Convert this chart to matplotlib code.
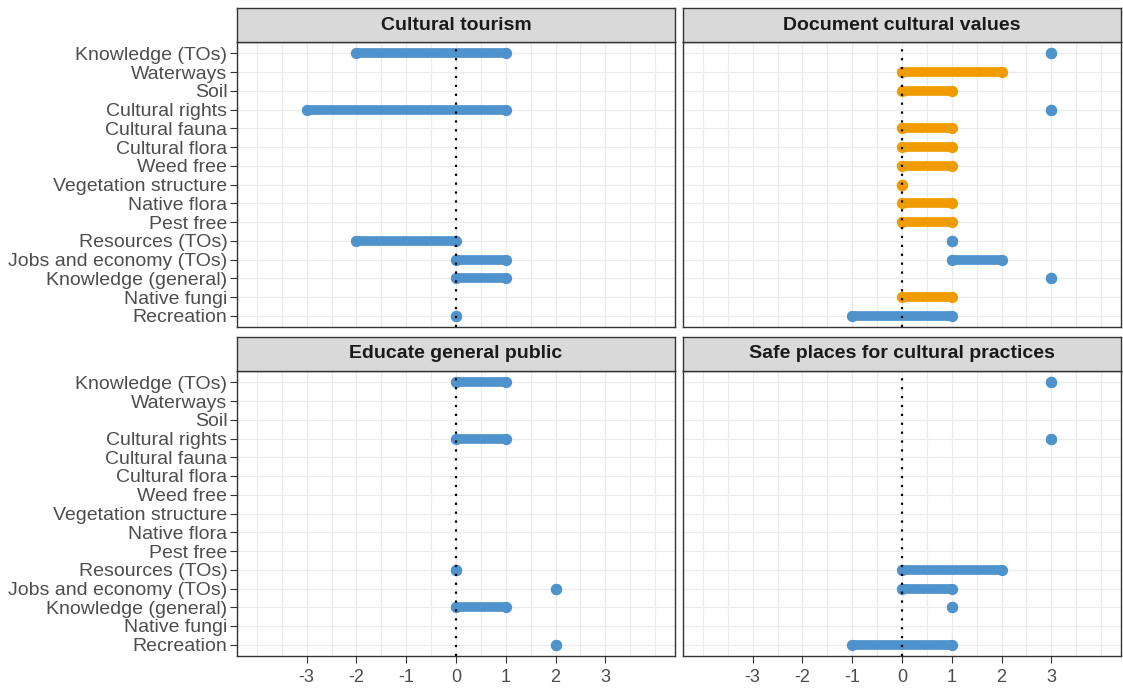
import matplotlib
matplotlib.use("Agg")
import matplotlib.pyplot as plt
import numpy as np

# Outcome categories, listed top to bottom
categories = [
    "Knowledge (TOs)", "Waterways", "Soil", "Cultural rights", "Cultural fauna",
    "Cultural flora", "Weed free", "Vegetation structure", "Native flora",
    "Pest free", "Resources (TOs)", "Jobs and economy (TOs)",
    "Knowledge (general)", "Native fungi", "Recreation",
]

panel_titles = [
    "Cultural tourism", "Document cultural values",
    "Educate general public", "Safe places for cultural practices",
]

# Per panel: (category, start, end, group)
cultural_tourism = [
    ("Knowledge (TOs)", -2, 1, "a"),
    ("Cultural rights", -3, 1, "a"),
    ("Resources (TOs)", -2, 0, "a"),
    ("Jobs and economy (TOs)", 0, 1, "a"),
    ("Knowledge (general)", 0, 1, "a"),
    ("Recreation", 0, 0, "a"),
]
document_values = [
    ("Knowledge (TOs)", 3, 3, "a"),
    ("Waterways", 0, 2, "b"),
    ("Soil", 0, 1, "b"),
    ("Cultural rights", 3, 3, "a"),
    ("Cultural fauna", 0, 1, "b"),
    ("Cultural flora", 0, 1, "b"),
    ("Weed free", 0, 1, "b"),
    ("Vegetation structure", 0, 0, "b"),
    ("Native flora", 0, 1, "b"),
    ("Pest free", 0, 1, "b"),
    ("Resources (TOs)", 1, 1, "a"),
    ("Jobs and economy (TOs)", 1, 2, "a"),
    ("Knowledge (general)", 3, 3, "a"),
    ("Native fungi", 0, 1, "b"),
    ("Recreation", -1, 1, "a"),
]
educate_public = [
    ("Knowledge (TOs)", 0, 1, "a"),
    ("Cultural rights", 0, 1, "a"),
    ("Resources (TOs)", 0, 0, "a"),
    ("Jobs and economy (TOs)", 2, 2, "a"),
    ("Knowledge (general)", 0, 1, "a"),
    ("Recreation", 2, 2, "a"),
]
safe_places = [
    ("Knowledge (TOs)", 3, 3, "a"),
    ("Cultural rights", 3, 3, "a"),
    ("Resources (TOs)", 0, 2, "a"),
    ("Jobs and economy (TOs)", 0, 1, "a"),
    ("Knowledge (general)", 1, 1, "a"),
    ("Recreation", -1, 1, "a"),
]
panels = [cultural_tourism, document_values, educate_public, safe_places]

x_ticks = [-3, -2, -1, 0, 1, 2, 3]
group_colors = {"a": "#4F93CD", "b": "#F09C00"}

W, H = 1123, 691
fig = plt.figure(figsize=(W / 100, H / 100), dpi=100)
fig.patch.set_facecolor("white")

font = "Liberation Sans"

# panel boxes in pixel coordinates
cols = [(237, 675), (683, 1121)]
rows = [(42, 327), (371, 656)]
strip_h = 34

n = len(categories)
ypos = {c: n - 1 - i for i, c in enumerate(categories)}
grey20 = "#333333"

for k, data in enumerate(panels):
    r, c = divmod(k, 2)
    x0, x1 = cols[c]
    y0, y1 = rows[r]
    ax = fig.add_axes([x0 / W, 1 - y1 / H, (x1 - x0) / W, (y1 - y0) / H])
    ax.set_xlim(-4.4, 4.4)
    ax.set_ylim(-0.6, n - 0.4)
    ax.set_facecolor("white")

    # grid
    for gx in np.arange(-4, 4.01, 0.5):
        ax.axvline(gx, color="#EBEBEB", lw=0.9, zorder=0)
    for gy in range(n):
        ax.axhline(gy, color="#EBEBEB", lw=0.9, zorder=0)

    # reference line at zero
    ax.axvline(0, color="black", lw=1.6, ls=(0, (1, 3)), zorder=3)

    for cat, start, end, grp in data:
        y = ypos[cat]
        col = group_colors[grp]
        if start != end:
            ax.plot([start, end], [y, y], color=col, lw=7,
                    solid_capstyle="round", zorder=2)
        ax.scatter([start, end], [y, y], s=66, color=col, zorder=2,
                   linewidths=0)

    for s in ax.spines.values():
        s.set_color(grey20)
        s.set_linewidth(1.0)

    ax.set_yticks([ypos[cat] for cat in categories])
    if c == 0:
        ax.set_yticklabels(categories, fontsize=14, family=font, color="#4D4D4D")
        ax.tick_params(axis="y", length=5, width=0.8, color=grey20, pad=2)
    else:
        ax.set_yticklabels([])
        ax.tick_params(axis="y", length=0)

    ax.set_xticks(x_ticks)
    if r == 1:
        ax.set_xticklabels([str(t) for t in x_ticks], fontsize=13,
                           family=font, color="#4D4D4D")
        ax.tick_params(axis="x", length=5, width=0.8, color=grey20, pad=4)
    else:
        ax.set_xticklabels([])
        ax.tick_params(axis="x", length=0)

    # facet strip
    sax = fig.add_axes([x0 / W, 1 - y0 / H, (x1 - x0) / W, strip_h / H])
    sax.set_facecolor("#D9D9D9")
    sax.set_xticks([])
    sax.set_yticks([])
    for s in sax.spines.values():
        s.set_color(grey20)
        s.set_linewidth(1.0)
    sax.text(0.5, 0.5, panel_titles[k], ha="center", va="center",
             fontsize=14, fontweight="bold", family=font,
             color="#1A1A1A", transform=sax.transAxes)

fig.savefig("out.png", dpi=100, facecolor="white")
